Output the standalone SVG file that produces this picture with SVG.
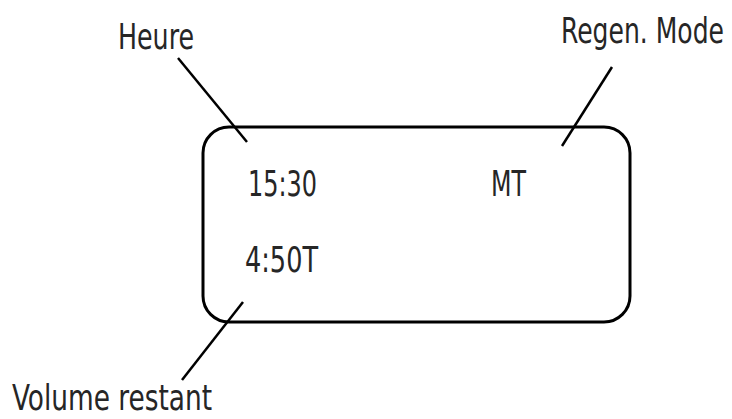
<svg xmlns="http://www.w3.org/2000/svg" width="732" height="419" viewBox="0 0 732 419">
<style>
.t{font-family:"DejaVu Sans Condensed","DejaVu Sans","Liberation Sans",sans-serif;font-stretch:condensed;font-size:36px;fill:#262626;}
.ln{stroke:#000;stroke-width:2.5;fill:none;stroke-linecap:butt;}
</style>
<rect x="0" y="0" width="732" height="419" fill="#fff"/>
<g id="display">
<rect x="203" y="127" width="427" height="195" rx="26" ry="26" fill="none" stroke="#000" stroke-width="3"/>
</g>
<g id="time"><text class="t" x="248" y="196" textLength="69" lengthAdjust="spacingAndGlyphs">15:30</text></g>
<g id="mode"><text class="t" x="491" y="196" textLength="35" lengthAdjust="spacingAndGlyphs">MT</text></g>
<g id="volume"><text class="t" x="245" y="272" textLength="73" lengthAdjust="spacingAndGlyphs">4:50T</text></g>
<g id="label-heure"><text class="t" x="118" y="49" textLength="76" lengthAdjust="spacingAndGlyphs">Heure</text></g>
<g id="label-regen"><text class="t" x="724" y="43" text-anchor="end" textLength="163" lengthAdjust="spacingAndGlyphs">Regen. Mode</text></g>
<g id="label-volume"><text class="t" x="12" y="410" textLength="200" lengthAdjust="spacingAndGlyphs">Volume restant</text></g>
<g id="connectors">
<line class="ln" x1="178" y1="58" x2="247" y2="142"/>
<line class="ln" x1="612" y1="67" x2="562" y2="146"/>
<line class="ln" x1="243" y1="302" x2="182" y2="380"/>
</g>
</svg>
